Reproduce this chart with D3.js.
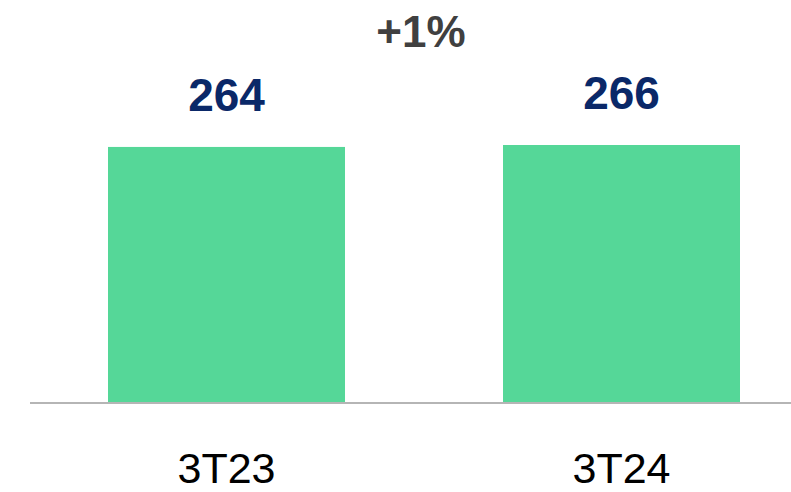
<!DOCTYPE html>
<html>
<head>
<meta charset="utf-8">
<script src="https://cdn.jsdelivr.net/npm/d3@7"></script>
<style>
  body { margin: 0; background: #fff; }
  text { font-family: "Liberation Sans", Arial, sans-serif; }
</style>
</head>
<body>
<div id="chart"></div>
<script>
// data
var categories = ["3T23", "3T24"];
var values = [264, 266];
var changeLabel = "+1%";

var width = 791;
var height = 492;
var baseY = 403;

var svg = d3.select("#chart").append("svg")
    .attr("width", width)
    .attr("height", height);

var x = d3.scaleBand()
    .domain(categories)
    .range([29, 819])
    .paddingInner(0.4)
    .paddingOuter(0.2);

var y = d3.scaleLinear()
    .domain([0, 266])
    .range([baseY, 145]);

// bars
svg.selectAll("rect.bar")
    .data(values)
    .enter().append("rect")
    .attr("class", "bar")
    .attr("x", function(d, i) { return x(categories[i]); })
    .attr("y", function(d) { return y(d); })
    .attr("width", x.bandwidth())
    .attr("height", function(d) { return baseY - y(d); })
    .attr("fill", "#55d798");

// baseline
svg.append("line")
    .attr("x1", 30)
    .attr("x2", width)
    .attr("y1", baseY)
    .attr("y2", baseY)
    .attr("stroke", "#b5b5b5")
    .attr("stroke-width", 2);

// value labels
svg.selectAll("text.val")
    .data(values)
    .enter().append("text")
    .attr("class", "val")
    .attr("x", function(d, i) { return x(categories[i]) + x.bandwidth() / 2; })
    .attr("y", function(d) { return y(d) - 36; })
    .attr("text-anchor", "middle")
    .attr("font-size", "46px")
    .attr("font-weight", "bold")
    .attr("fill", "#0a2868")
    .text(function(d) { return d; });

// category labels
var xAxis = d3.axisBottom(x).tickSize(0).tickPadding(0);
var ax = svg.append("g")
    .attr("transform", "translate(0," + baseY + ")")
    .call(xAxis);
ax.select(".domain").remove();
ax.selectAll("text")
    .attr("dy", null)
    .attr("y", 80)
    .attr("font-size", "43px")
    .attr("font-family", "\"Liberation Sans\", Arial, sans-serif")
    .attr("fill", "#000");

// change label
var mid = (x(categories[0]) + x(categories[1]) + x.bandwidth()) / 2;
svg.append("text")
    .attr("x", mid - 3)
    .attr("y", 47)
    .attr("text-anchor", "middle")
    .attr("font-size", "44px")
    .attr("font-weight", "bold")
    .attr("fill", "#404040")
    .text(changeLabel);
</script>
</body>
</html>
